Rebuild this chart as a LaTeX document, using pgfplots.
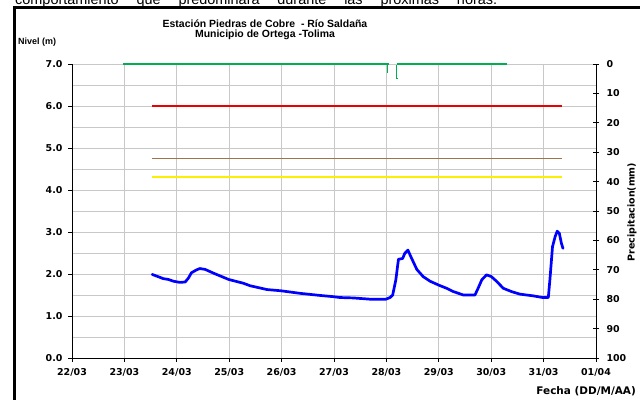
\documentclass[border=0pt]{standalone}
\usepackage{fontspec}
\setmainfont{Liberation Sans}
\newfontfamily\dv{DejaVu Sans}
\usepackage{pgfplots}
\pgfplotsset{compat=1.18}
\definecolor{gridc}{RGB}{200,200,200}
\definecolor{precgreen}{RGB}{0,176,80}
\definecolor{nivbrown}{RGB}{160,116,74}
\definecolor{nivblue}{RGB}{0,0,255}
\definecolor{nivred}{RGB}{235,0,0}
\definecolor{nivyellow}{RGB}{250,240,0}
\begin{document}
\begin{tikzpicture}
\path[use as bounding box] (0bp,0bp) rectangle (640bp,400bp);
\begin{axis}[
  at={(72bp,42bp)}, anchor=south west,
  scale only axis, width=524bp, height=294bp,
  xmin=22, xmax=32, ymin=0, ymax=7,
  axis lines*=left,
  axis line style={black, line width=0.9pt},
  xtick={22,...,32},
  xticklabels={22/03,23/03,24/03,25/03,26/03,27/03,28/03,29/03,30/03,31/03,01/04},
  ytick={0,...,7},
  minor ytick={0.5,1.5,...,6.5},
  xmajorgrids, ymajorgrids, yminorgrids,
  grid style={gridc, line width=1pt},
  minor grid style={gridc, line width=1pt},
  tick align=outside, major tick length=4bp, minor tick length=0pt,
  tick style={black, line width=0.9pt},
  tick label style={font=\dv\bfseries\fontsize{9.5}{10}\selectfont},
  xticklabel style={yshift=-3bp},
  yticklabel style={xshift=-2bp, /pgf/number format/.cd, fixed, fixed zerofill, precision=1},
  /pgf/number format/assume math mode=true,
  clip=false,
]
\addplot[color=nivred, line width=1.1bp] coordinates {(23.53,6.0) (31.36,6.0)};
\addplot[color=nivbrown, line width=1.5bp] coordinates {(23.53,4.75) (31.36,4.75)};
\addplot[color=nivyellow, line width=2bp] coordinates {(23.53,4.30) (31.36,4.30)};
\addplot[color=nivblue, line width=2.7bp, line join=round, line cap=round] coordinates {
(23.53,1.99)(23.68,1.92)(23.74,1.89)(23.84,1.87)(23.93,1.83)(24.06,1.80)(24.16,1.81)(24.22,1.90)(24.28,2.03)(24.38,2.10)(24.44,2.13)(24.54,2.11)(24.70,2.02)(24.99,1.87)(25.27,1.78)(25.40,1.72)(25.72,1.63)(25.99,1.60)(26.35,1.54)(26.73,1.49)(26.99,1.46)(27.11,1.44)(27.37,1.43)(27.69,1.40)(27.99,1.40)(28.07,1.44)(28.12,1.50)(28.18,1.86)(28.23,2.35)(28.31,2.37)(28.35,2.49)(28.41,2.57)(28.46,2.43)(28.58,2.11)(28.70,1.94)(28.83,1.83)(28.99,1.74)(29.15,1.66)(29.28,1.58)(29.47,1.50)(29.69,1.50)(29.75,1.66)(29.82,1.86)(29.91,1.98)(30.00,1.94)(30.10,1.83)(30.23,1.66)(30.39,1.58)(30.55,1.52)(30.80,1.48)(30.98,1.44)(31.09,1.44)(31.12,1.86)(31.17,2.65)(31.22,2.89)(31.26,3.02)(31.30,2.97)(31.34,2.73)(31.37,2.61)};
\end{axis}
\begin{axis}[
  at={(72bp,42bp)}, anchor=south west,
  scale only axis, width=524bp, height=294bp,
  xmin=22, xmax=32, ymin=0, ymax=100, y dir=reverse,
  axis y line*=right, axis x line=none,
  axis line style={black, line width=0.9pt},
  ytick={0,10,...,100},
  tick align=center, major tick length=6bp,
  tick style={black, line width=0.9pt},
  tick label style={font=\dv\bfseries\fontsize{9.5}{10}\selectfont},
  yticklabel style={xshift=4bp},
  /pgf/number format/assume math mode=true,
  clip=false,
]
\addplot[color=precgreen, line width=2bp] coordinates {(22.97,0) (28.04,0)};
\addplot[color=precgreen, line width=1.6bp] coordinates {(28.02,0) (28.02,3.2)};
\addplot[color=precgreen, line width=1.6bp] coordinates {(28.19,0.4) (28.19,4.9) (28.215,4.9)};
\addplot[color=precgreen, line width=2bp] coordinates {(28.21,0) (30.31,0)};
\end{axis}
\node[anchor=base west, inner sep=0, font=\fontsize{14.5}{16}\selectfont] at (15bp,395.5bp) {\makebox[482bp][s]{comportamiento que predominará durante las próximas horas.}};
\draw[line width=2.5bp] (14.5bp,-5bp) -- (14.5bp,392.3bp) -- (650bp,392.3bp);
\node[align=center, inner sep=0, font=\bfseries\fontsize{10.5}{10}\selectfont] at (265bp,370bp) {Estación Piedras de Cobre \ - Río Saldaña\\Municipio de Ortega -Tolima};
\node[anchor=west, inner sep=0, font=\bfseries\fontsize{9}{10}\selectfont] at (18bp,358bp) {Nivel (m)};
\node[anchor=east, inner sep=0, font=\dv\bfseries\fontsize{10.5}{10}\selectfont] at (636bp,9bp) {Fecha (DD/M/AA)};
\node[rotate=90, inner sep=0, font=\dv\bfseries\fontsize{9.5}{10}\selectfont] at (632bp,188bp) {Precipitacion(mm)};
\end{tikzpicture}
\end{document}
